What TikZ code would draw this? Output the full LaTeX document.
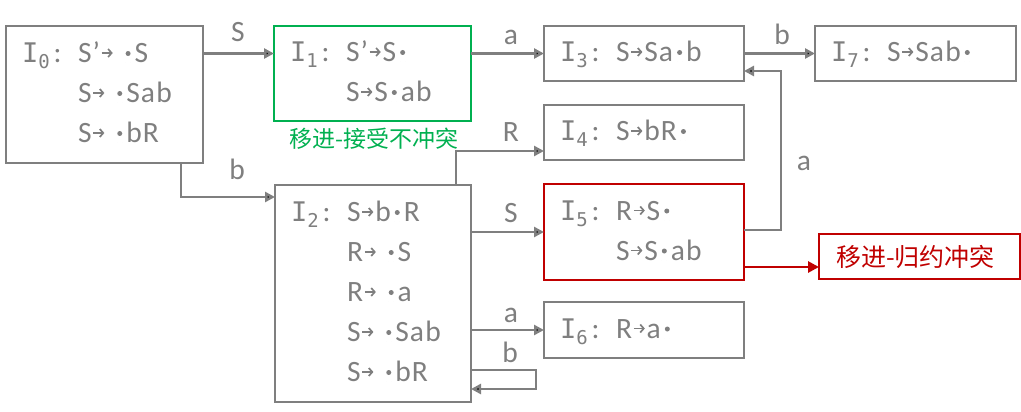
\documentclass[tikz,border=0pt]{standalone}
\usepackage{fontspec}
\setmainfont{Carlito}[LetterSpace=4]
\newfontfamily\monof{DejaVu Sans Mono}
\newfontfamily\cjk{Noto Sans CJK SC}
\usetikzlibrary{arrows.meta,calc}
\definecolor{gr}{RGB}{127,127,127}
\definecolor{grn}{RGB}{0,176,80}
\definecolor{rd}{RGB}{192,0,0}
\newcommand{\Iname}[1]{\makebox[56pt][l]{{\fontsize{27}{27}\selectfont\monof I}\raisebox{-6pt}{\fontsize{19}{19}\selectfont\monof #1}\hspace{4pt}:}}
\newcommand{\ar}{\hspace{1pt}\tikz[baseline=0pt]{\draw[line width=1.7pt,-{Straight Barb[length=3.5pt,width=8pt,line width=1.7pt]}] (0pt,9.5pt) -- (11pt,9.5pt);}\hspace{1pt}}
\newcommand{\dt}{\hspace{4pt}\tikz[baseline=0pt]\fill (0,0) circle (0pt) (2.5pt,9pt) circle (2.5pt) (5pt,0) circle (0pt);\hspace{4pt}}
\newcommand{\ad}{\hspace{7pt}}
\begin{document}
\begin{tikzpicture}[x=1pt,y=-1pt,
  box/.style={draw=gr,line width=2.8pt,text=gr,inner xsep=16pt,inner ysep=0pt,outer sep=0pt,
    align=left,font=\fontsize{29.5}{40}\selectfont},
  arr/.style={draw=gr,line width=2.8pt,-{Triangle[length=10pt,width=10pt]}},
  lbl/.style={text=gr,font=\fontsize{29.5}{30}\selectfont,anchor=base,inner sep=0pt}]
\useasboundingbox (0,0) rectangle (1021,412);
% boxes
\node[box,text width=165pt,minimum height=137pt] (I0) at (104.5,94.5)
  {\begin{tabular}{@{}l@{}l@{}}\Iname{0} & S’\ar\ad\dt S\\ & S\ar\ad\dt Sab\\ & S\ar\ad\dt bR\end{tabular}};
\node[box,draw=grn,text width=165pt,minimum height=95pt] (I1) at (372.5,73.5)
  {\begin{tabular}{@{}l@{}l@{}}\Iname{1} & S’\ar S\dt\\ & S\ar S\dt ab\end{tabular}};
\node[box,text width=164pt,minimum height=217pt] (I2) at (373,293.5)
  {\begin{tabular}{@{}l@{}l@{}}\Iname{2} & S\ar b\dt R\\ & R\ar\ad\dt S\\ & R\ar\ad\dt a\\ & S\ar\ad\dt Sab\\ & S\ar\ad\dt bR\end{tabular}};
\node[box,text width=168pt,minimum height=55pt] (I3) at (644,53.5)
  {\begin{tabular}{@{}l@{}l@{}}\Iname{3} & S\ar Sa\dt b\end{tabular}};
\node[box,text width=169pt,minimum height=55pt] (I7) at (915.5,53.5)
  {\begin{tabular}{@{}l@{}l@{}}\Iname{7} & S\ar Sab\dt\end{tabular}};
\node[box,text width=168pt,minimum height=55pt] (I4) at (644,132.5)
  {\begin{tabular}{@{}l@{}l@{}}\Iname{4} & S\ar bR\dt\end{tabular}};
\node[box,draw=rd,text width=168pt,minimum height=96pt] (I5) at (644,232)
  {\begin{tabular}{@{}l@{}l@{}}\Iname{5} & R\ar S\dt\\ & S\ar S\dt ab\end{tabular}};
\node[box,text width=168pt,minimum height=56pt] (I6) at (644,330)
  {\begin{tabular}{@{}l@{}l@{}}\Iname{6} & R\ar a\dt\end{tabular}};
\node[draw=rd,line width=2.8pt,minimum width=201pt,minimum height=45pt,inner sep=0pt,outer sep=0pt] (C2) at (919.5,256.5) {};
\node[text=rd,font=\cjk\fontsize{25}{25}\selectfont,inner sep=0pt] (C2t) at ([xshift=-4pt]C2.center) {移进-归约冲突};
\node[text=grn,font=\cjk\fontsize{23}{23}\selectfont,inner sep=0pt] (C1) at (374,139) {移进-接受不冲突};
% connectors
\draw[arr] (I0.east |- I3.center) -- (I1.west |- I3.center);
\draw[arr] (I1.east |- I3.west) -- (I3.west);
\draw[arr] (I3.east) -- (I7.west);
\draw[arr] ([xshift=76.5pt]I0.south) |- ([yshift=-12pt]I2.north west);
\draw[arr] ([xshift=-15pt]I2.north east) |- ([yshift=-18.5pt]I4.west);
\draw[arr] (I2.east |- I5.west) -- (I5.west);
\draw[arr] (I2.east |- I6.west) -- (I6.west);
\draw[arr] ([yshift=-76.5pt]I2.east) -- ++(65,0) -- ++(0,19) -- ([yshift=-95.5pt]I2.east);
\draw[arr] ([yshift=2pt]I5.east) -- ++(37,0) |- ([yshift=-17.5pt]I3.east);
\draw[draw=rd,line width=2.8pt,-{Triangle[length=11pt,width=11pt]}] ([yshift=-35pt]I5.east) -- ([yshift=-10.5pt]C2.west);
% labels
\node[lbl] (lS1) at (238,42) {S};
\node[lbl] (lb1) at (237,179) {b};
\node[lbl] (la1) at (511,45) {a};
\node[lbl] (lR) at (511,142) {R};
\node[lbl] (lb2) at (782,45) {b};
\node[lbl] (la2) at (804,170) {a};
\node[lbl] (lS2) at (511,222) {S};
\node[lbl] (la3) at (511,322) {a};
\node[lbl] (lb3) at (510,362) {b};
\end{tikzpicture}
\end{document}
